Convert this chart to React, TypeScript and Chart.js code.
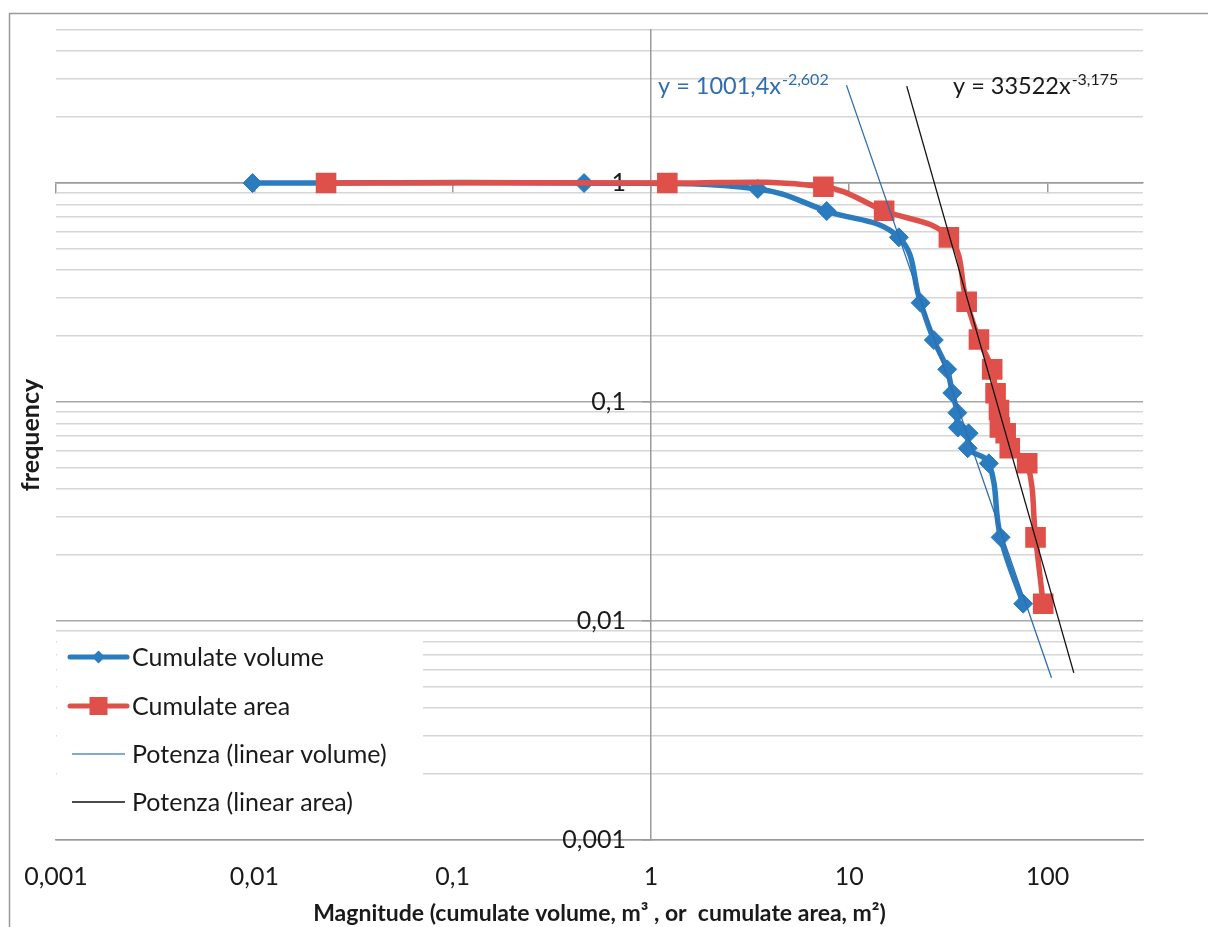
import React, { useEffect, useRef } from 'react';
import { Chart, registerables } from 'chart.js';

Chart.register(...registerables);

// ---- data ----
const volumeX = [0.0098, 0.46, 3.46, 7.7, 17.8, 22.9, 26.7, 31.2, 33.1, 35.1, 35.3, 40.0, 39.6, 50.6, 58.0, 75.4];
const volumeY = [1, 1, 0.94, 0.745, 0.565, 0.284, 0.192, 0.141, 0.11, 0.0894, 0.0765, 0.072, 0.0615, 0.0525, 0.0241, 0.012];

const areaX = [0.023, 1.21, 7.41, 15.0, 31.8, 39.1, 45.1, 52.6, 54.7, 56.9, 57.5, 61.5, 64.5, 79.0, 87.0, 95.1];
const areaY = [1, 1, 0.962, 0.747, 0.565, 0.287, 0.193, 0.141, 0.1096, 0.092, 0.0765, 0.072, 0.0615, 0.0525, 0.0241, 0.012];

const trendVolumeX = [9.68, 104.7];
const trendVolumeY = [2.8, 0.00551];
const trendAreaX = [19.5, 135.7];
const trendAreaY = [2.77, 0.0058];

const xTickValues = [0.001, 0.01, 0.1, 1, 10, 100];
const yTickValues = [0.001, 0.01, 0.1, 1];
const yGridValues = [
  0.001, 0.002, 0.003, 0.004, 0.005, 0.006, 0.007, 0.008, 0.009,
  0.01, 0.02, 0.03, 0.04, 0.05, 0.06, 0.07, 0.08, 0.09,
  0.1, 0.2, 0.3, 0.4, 0.5, 0.6, 0.7, 0.8, 0.9,
  1, 2, 3, 4, 5,
];

const seriesLabels = ['Cumulate volume', 'Cumulate area', 'Potenza (linear volume)', 'Potenza (linear area)'];
const xTitle = 'Magnitude (cumulate volume, m³ , or  cumulate area, m²)';
const yTitle = 'frequency';
const eqVolume = ['y = 1001,4x', '-2,602'];
const eqArea = ['y = 33522x', '-3,175'];

const X_MIN = 0.001;
const X_MAX = 303;
const Y_MIN = 0.001;
const Y_MAX = 5;

const BLUE = '#2B7BBF';
const RED = '#E0504A';
const TREND_BLUE = '#2F6DB0';
const TREND_BLACK = '#111111';
const TEXT = '#1a1a1a';
const FONT = 'Lato';

const fmt = (v: number) => String(v).replace('.', ',');
const isDecade = (v: number) => Math.abs(Math.log10(v) - Math.round(Math.log10(v))) < 1e-9;

const decorPlugin = {
  id: 'decor',
  beforeDraw(chart: any) {
    const ctx = chart.ctx;
    ctx.save();
    ctx.strokeStyle = '#9a9a9a';
    ctx.lineWidth = 1.5;
    ctx.strokeRect(9.5, 13.5, 1400, 1200);
    ctx.restore();
  },
  afterDatasetsDraw(chart: any) {
    const ctx = chart.ctx;
    const { left, bottom } = chart.chartArea;
    ctx.save();
    // legend box
    ctx.fillStyle = '#ffffff';
    ctx.fillRect(left + 1, bottom - 205, 366, 201);
    const rows = [bottom - 183, bottom - 134, bottom - 86, bottom - 38];
    const lx1 = left + 14;
    const lx2 = left + 71;
    const mx = (lx1 + lx2) / 2;
    ctx.lineCap = 'round';
    // row 1
    ctx.strokeStyle = BLUE;
    ctx.lineWidth = 5;
    ctx.beginPath(); ctx.moveTo(lx1, rows[0]); ctx.lineTo(lx2, rows[0]); ctx.stroke();
    ctx.fillStyle = BLUE;
    ctx.beginPath();
    ctx.moveTo(mx - 6.5, rows[0]); ctx.lineTo(mx, rows[0] - 6.5); ctx.lineTo(mx + 6.5, rows[0]); ctx.lineTo(mx, rows[0] + 6.5);
    ctx.closePath(); ctx.fill();
    // row 2
    ctx.strokeStyle = RED;
    ctx.beginPath(); ctx.moveTo(lx1, rows[1]); ctx.lineTo(lx2, rows[1]); ctx.stroke();
    ctx.fillStyle = RED;
    ctx.fillRect(mx - 9, rows[1] - 9, 18, 18);
    // row 3, 4
    ctx.lineCap = 'butt';
    ctx.lineWidth = 1.5;
    ctx.strokeStyle = '#5a8cc6';
    ctx.beginPath(); ctx.moveTo(lx1 + 2, rows[2]); ctx.lineTo(lx2 - 2, rows[2]); ctx.stroke();
    ctx.strokeStyle = TREND_BLACK;
    ctx.beginPath(); ctx.moveTo(lx1 + 2, rows[3]); ctx.lineTo(lx2 - 2, rows[3]); ctx.stroke();
    // texts
    ctx.fillStyle = TEXT;
    ctx.font = `25px ${FONT}`;
    ctx.textBaseline = 'middle';
    ctx.textAlign = 'left';
    seriesLabels.forEach((t, i) => ctx.fillText(t, left + 76, rows[i] + 1));

    // trendline equations
    ctx.textBaseline = 'alphabetic';
    const drawEq = (eq: string[], x: number, y: number, color: string) => {
      ctx.fillStyle = color;
      ctx.font = `23.5px ${FONT}`;
      ctx.fillText(eq[0], x, y);
      const w = ctx.measureText(eq[0]).width;
      ctx.font = `16px ${FONT}`;
      ctx.fillText(eq[1], x + w + 1, y - 9);
    };
    drawEq(eqVolume, 658, 94, TREND_BLUE);
    drawEq(eqArea, 953, 94, TEXT);
    ctx.restore();
  },
};

export default function App() {
  const ref = useRef<HTMLCanvasElement | null>(null);

  useEffect(() => {
    document.body.style.margin = '0';
    const canvas = ref.current;
    if (!canvas) return;
    const pts = (xs: number[], ys: number[]) => xs.map((x, i) => ({ x, y: ys[i] }));
    const setTicks = (vals: number[]) => (s: any) => {
      s.ticks = vals.map((v) => ({ value: v }));
    };

    const chart = new Chart(canvas, {
      type: 'line',
      data: {
        datasets: [
          {
            label: seriesLabels[2],
            data: pts(trendVolumeX, trendVolumeY),
            xAxisID: 'x',
            yAxisID: 'y',
            borderColor: TREND_BLUE,
            borderWidth: 1.3,
            pointRadius: 0,
            tension: 0,
            order: 1,
          },
          {
            label: seriesLabels[3],
            data: pts(trendAreaX, trendAreaY),
            xAxisID: 'x',
            yAxisID: 'y',
            borderColor: TREND_BLACK,
            borderWidth: 1.3,
            pointRadius: 0,
            tension: 0,
            order: 1,
          },
          {
            label: seriesLabels[1],
            data: pts(areaX, areaY),
            xAxisID: 'x',
            yAxisID: 'y',
            borderColor: RED,
            backgroundColor: RED,
            borderWidth: 5.5,
            tension: 0.4,
            pointStyle: 'rect',
            pointRadius: 13.5,
            pointBorderWidth: 1.5,
            pointBackgroundColor: RED,
            pointBorderColor: RED,
            order: 2,
          },
          {
            label: seriesLabels[0],
            data: pts(volumeX, volumeY),
            xAxisID: 'x',
            yAxisID: 'y',
            borderColor: BLUE,
            backgroundColor: BLUE,
            borderWidth: 5.5,
            tension: 0.4,
            pointStyle: 'rectRot',
            pointRadius: 9.5,
            pointBorderWidth: 1,
            pointBackgroundColor: BLUE,
            pointBorderColor: BLUE,
            order: 3,
          },
        ],
      },
      options: {
        animation: false,
        responsive: false,
        maintainAspectRatio: false,
        layout: { padding: { left: 0, right: 65, top: 30, bottom: 0 } },
        plugins: {
          legend: { display: false },
          tooltip: { enabled: false },
        },
        scales: {
          x: {
            type: 'logarithmic',
            axis: 'x',
            position: 'bottom',
            min: X_MIN,
            max: X_MAX,
            afterBuildTicks: setTicks(xTickValues),
            afterFit: (s: any) => {
              s.height = 87;
            },
            grid: { display: false, drawTicks: false },
            border: { display: true, color: '#9a9a9a', width: 1.5 },
            ticks: {
              autoSkip: false,
              maxRotation: 0,
              padding: 22,
              color: TEXT,
              font: { family: FONT, size: 25 },
              callback: (v: any) => fmt(Number(v)),
            },
            title: {
              display: true,
              text: xTitle,
              color: TEXT,
              font: { family: FONT, size: 23, weight: 'bold' },
              padding: { top: 0, bottom: 0 },
            },
          },
          x2: {
            type: 'logarithmic',
            axis: 'x',
            position: { y: 1 },
            min: X_MIN,
            max: X_MAX,
            afterBuildTicks: setTicks(xTickValues),
            grid: { display: true, drawOnChartArea: false, drawTicks: true, tickLength: 10, color: '#9a9a9a', lineWidth: 1.5 },
            border: { display: true, color: '#9a9a9a', width: 1.5 },
            ticks: { display: false },
          },
          y: {
            type: 'logarithmic',
            axis: 'y',
            position: { x: 0.748 },
            min: Y_MIN,
            max: Y_MAX,
            afterBuildTicks: setTicks(yGridValues),
            grid: {
              display: true,
              drawTicks: false,
              color: (c: any) => (c.tick && isDecade(c.tick.value) ? '#a8a8a8' : '#d6d6d6'),
              lineWidth: 1.5,
            },
            border: { display: false },
            ticks: {
              autoSkip: false,
              padding: 0,
              color: TEXT,
              font: { family: FONT, size: 25 },
              callback: (v: any) => (isDecade(Number(v)) ? fmt(Number(v)) : ''),
            },
          },
          y2: {
            type: 'logarithmic',
            axis: 'y',
            position: { x: 1 },
            min: Y_MIN,
            max: Y_MAX,
            afterBuildTicks: setTicks(yTickValues),
            grid: { display: true, drawOnChartArea: false, drawTicks: true, tickLength: 8, color: '#9a9a9a', lineWidth: 1.5 },
            border: { display: true, color: '#9a9a9a', width: 1.5 },
            ticks: { display: false },
          },
          yT: {
            type: 'linear',
            axis: 'y',
            position: 'left',
            min: 0,
            max: 1,
            afterFit: (s: any) => {
              s.width = 56;
            },
            grid: { display: false },
            border: { display: false },
            ticks: { display: false },
            title: {
              display: true,
              text: yTitle,
              color: TEXT,
              font: { family: FONT, size: 25, weight: 'bold' },
              padding: { top: 16, bottom: 0 },
            },
          },
        },
      } as any,
      plugins: [decorPlugin],
    });
    return () => chart.destroy();
  }, []);

  return <canvas ref={ref} width={1208} height={927} style={{ display: 'block' }} />;
}
